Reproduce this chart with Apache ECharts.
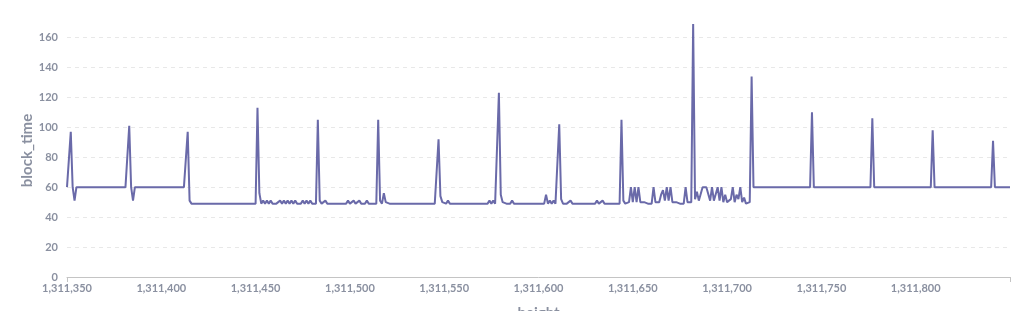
<!DOCTYPE html>
<html>
<head>
<meta charset="utf-8">
<script src="https://cdn.jsdelivr.net/npm/echarts@6/dist/echarts.min.js"></script>
<style>
  html, body { margin: 0; padding: 0; background: #ffffff; }
  #chart { width: 1026px; height: 311px; }
</style>
</head>
<body>
<div id="chart"></div>
<script>
// First block height; each value below belongs to the next consecutive height.
const startHeight = 1311350;
const xTickLabels = [1311350, 1311400, 1311450, 1311500, 1311550, 1311600, 1311650, 1311700, 1311750, 1311800];
const yTickLabels = [0, 20, 40, 60, 80, 100, 120, 140, 160];

// block_time values (seconds), heights 1,311,350 .. 1,311,850
const blockTime = [
  60,60,97,60,51,
  60,60,60,60,60,60,60,60,60,60, 60,60,60,60,60,60,60,60,60,60, 60,60,60,60,60,60,60,60,
  101,60,51,60,
  60,60,60,60,60,60,60,60,60,60, 60,60,60,60,60,60,60,60,60,60, 60,60,60,60,60,60,60,
  97,51,49,50,49,
  49,49,49,49,49,49,49,49,49,49, 49,49,49,49,49,49,49,49,49,49, 49,49,49,49,49,49,49,49,49,49, 49,49,
  113,56,
  49,51,49,51,49,51,49,49,49,49, 51,49,51,49,51,49,51,49,51,49, 49,49,51,49,51,49,51,49,49,49,
  105,
  51,49,49,51,49,49,49,49,49,49, 49,49,49,49,49,51,49,49,51,49, 49,51,49,49,49,51,49,49,49,49, 49,
  105,
  51,49,56,50,50,
  49,49,49,49,49,49,49,49,49,49, 49,49,49,49,49,49,49,49,49,49, 49,49,49,49,49,49,
  92,
  54,50,49,49,51,
  49,49,49,49,49,49,49,49,49,49, 49,49,49,49,49,49,49,49,49,49, 49,
  51,49,51,49,49,
  123,
  55,50,49,49,49,49,51,
  49,49,49,49,49,49,49,49,49,49, 49,49,49,49,49,49,49,
  55,49,51,49,51,49,49,
  102,
  52,49,49,49,49,51,
  49,49,49,49,49,49,49,49,49,49, 49,49,49,
  51,49,49,51,
  49,49,49,49,49,49,49,49,49,
  105,
  51,49,50,50,60,50,60,50,60,50, 49,50,49,49,50,49,60,50,49,50, 55,58,51,60,51,60,50,49,50,49, 49,50,49,60,50,50,50,
  169,
  52,57,51,51,60,60,60,60,51,60, 51,52,60,51,60,50,55,50,50,52, 60,50,55,52,60,50,53,49,49,50,
  134,
  60,60,60,60,60,60,60,60,60,60, 60,60,60,60,60,60,60,60,60,60, 60,60,60,60,60,60,60,60,60,60, 60,
  110,
  60,60,60,60,60,60,60,60,60,60, 60,60,60,60,60,60,60,60,60,60, 60,60,60,60,60,60,60,60,60,60, 60,
  106,
  60,60,60,60,60,60,60,60,60,60, 60,60,60,60,60,60,60,60,60,60, 60,60,60,60,60,60,60,60,60,60, 60,
  98,
  60,60,60,60,60,60,60,60,60,60, 60,60,60,60,60,60,60,60,60,60, 60,60,60,60,60,60,60,60,60,60, 60,
  91,
  60,60,60,60,60,60,60,60,60
];

const seriesData = blockTime.map((v, i) => [startHeight + i, v]);
const lastHeight = startHeight + blockTime.length - 1;

const textColor = '#8a90a0';
const fmt = v => String(v).replace(/\B(?=(\d{3})+(?!\d))/g, ',');

const chart = echarts.init(document.getElementById('chart'), null, { renderer: 'canvas' });
chart.setOption({
  animation: false,
  backgroundColor: '#ffffff',
  grid: { left: 67, right: 16, top: 24, bottom: 34, containLabel: false, outerBoundsMode: 'none' },
  xAxis: {
    type: 'value',
    min: xTickLabels[0],
    max: lastHeight,
    interval: 50,
    name: 'height',
    nameLocation: 'middle',
    nameGap: 29,
    nameMoveOverlap: false,
    nameTextStyle: { color: textColor, fontFamily: 'Lato', fontSize: 15, fontWeight: 'bold' },
    axisLine: { show: true, lineStyle: { color: '#c4c4c4', width: 1 } },
    axisTick: { show: true, customValues: [xTickLabels[0], lastHeight], length: 5, lineStyle: { color: '#c4c4c4' } },
    axisLabel: {
      customValues: xTickLabels,
      formatter: v => fmt(v),
      color: textColor, fontFamily: 'Lato', fontSize: 11, fontWeight: 'bold', margin: 6
    },
    splitLine: { show: false }
  },
  yAxis: {
    type: 'value',
    min: yTickLabels[0],
    max: 'dataMax',
    interval: 20,
    name: 'block_time',
    nameLocation: 'middle',
    nameGap: 32,
    nameMoveOverlap: false,
    nameTextStyle: { color: textColor, fontFamily: 'Lato', fontSize: 15, fontWeight: 'bold' },
    axisLine: { show: false },
    axisTick: { show: false },
    axisLabel: {
      customValues: yTickLabels,
      color: textColor, fontFamily: 'Lato', fontSize: 11, fontWeight: 'bold', margin: 9
    },
    splitLine: { show: true, showMaxLine: false, showMinLine: false, lineStyle: { color: '#e8e8e8', type: [4, 4], width: 1 } }
  },
  series: [{
    type: 'line',
    data: seriesData,
    showSymbol: false,
    symbol: 'none',
    lineStyle: { color: '#6a6aa9', width: 2 },
    itemStyle: { color: '#6a6aa9' }
  }]
});
</script>
</body>
</html>
